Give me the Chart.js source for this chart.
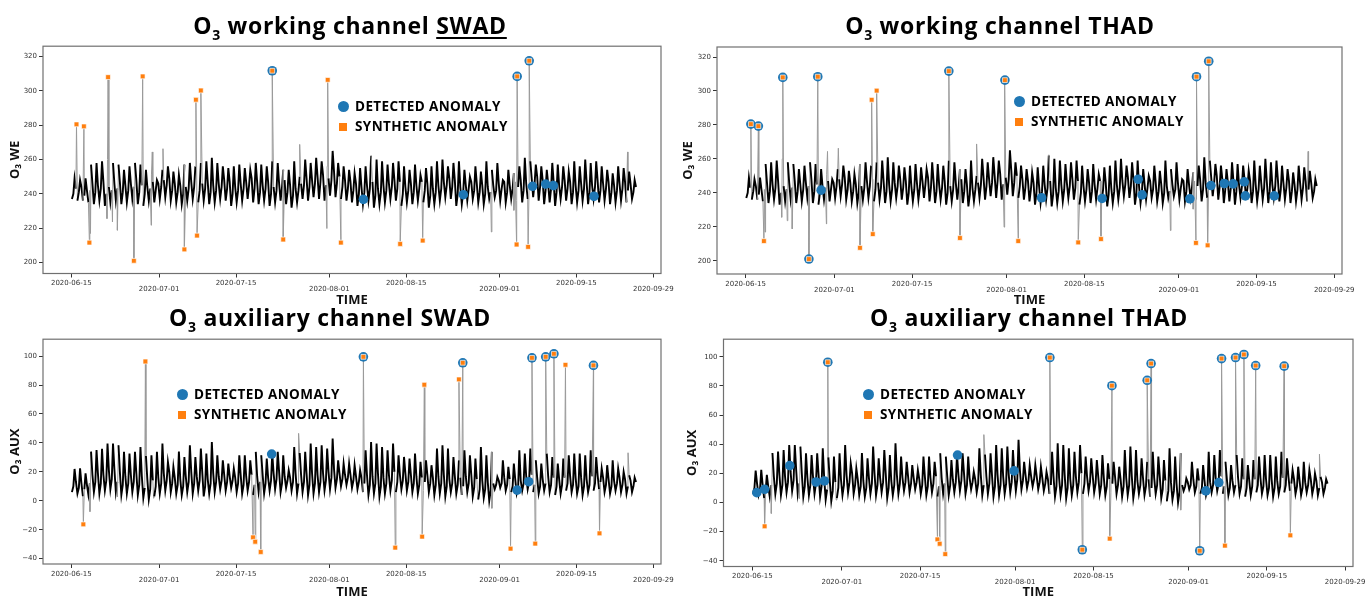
<!DOCTYPE html>
<html>
<head>
<meta charset="utf-8">
<script src="https://cdn.jsdelivr.net/npm/chart.js@4.4.0/dist/chart.umd.min.js"></script>
<style>
  body { margin: 0; background: #fff; }
  #page { position: relative; width: 1370px; height: 597px; overflow: hidden; background: #fff; }
  canvas { position: absolute; }
  .title { position: absolute; font-family: 'Open Sans', sans-serif; font-weight: 700; font-size: 23px;
           letter-spacing: 0.7px; line-height: 26px; white-space: nowrap; transform: translateX(-50%); color: #000; }
  .title .sub { font-size: 14px; position: relative; top: 6px; }
  .title u { text-decoration-thickness: 1.5px; text-underline-offset: 3px; }
  .leg { position: absolute; font-family: 'Open Sans', sans-serif; font-weight: 700; font-size: 13.5px;
         letter-spacing: 0.4px; color: #000; }
  .leg .row { height: 20px; line-height: 20px; white-space: nowrap; }
  .leg .dot { display: inline-block; width: 11px; height: 11px; border-radius: 50%; background: #1f77b4;
              vertical-align: -1px; margin-right: 6px; }
  .leg .sq { display: inline-block; width: 8px; height: 8px; background: #ff7f0e; vertical-align: 0px;
             margin: 0 8px 0 1px; }
</style>
</head>
<body>
<div id="page">
  <div class="title" style="left:350px; top:12px">O<span class="sub">3</span> working channel <u>SWAD</u></div>
  <div class="title" style="left:1000px; top:12px">O<span class="sub">3</span> working channel THAD</div>
  <div class="title" style="left:330px; top:304px">O<span class="sub">3</span> auxiliary channel SWAD</div>
  <div class="title" style="left:1029px; top:304px">O<span class="sub">3</span> auxiliary channel THAD</div>

  <div class="leg" style="left:338px; top:96px">
    <div class="row"><span class="dot"></span>DETECTED ANOMALY</div>
    <div class="row"><span class="sq"></span>SYNTHETIC ANOMALY</div>
  </div>
  <div class="leg" style="left:1014px; top:91px">
    <div class="row"><span class="dot"></span>DETECTED ANOMALY</div>
    <div class="row"><span class="sq"></span>SYNTHETIC ANOMALY</div>
  </div>
  <div class="leg" style="left:177px; top:384px">
    <div class="row"><span class="dot"></span>DETECTED ANOMALY</div>
    <div class="row"><span class="sq"></span>SYNTHETIC ANOMALY</div>
  </div>
  <div class="leg" style="left:863px; top:384px">
    <div class="row"><span class="dot"></span>DETECTED ANOMALY</div>
    <div class="row"><span class="sq"></span>SYNTHETIC ANOMALY</div>
  </div>
</div>

<script>
// x values are days since 2020-06-15
const dateTicks = [0, 16, 30, 47, 61, 78, 92, 106];
const dateLabels = ['2020-06-15', '2020-07-01', '2020-07-15', '2020-08-01', '2020-08-15', '2020-09-01', '2020-09-15', '2020-09-29'];
const weTicks = [200, 220, 240, 260, 280, 300, 320];
const auxTicks = [-40, -20, 0, 20, 40, 60, 80, 100];

// O3 WE: daily night low, morning, afternoon peak, evening
const weLow = [237,236,236,235,234,236,233,235,236,234,
  235,237,234,233,236,235,237,238,236,235,
  234,236,237,235,236,234,235,237,236,233,
  235,236,237,235,234,236,233,235,236,234,
  232,235,237,236,238,237,236,239,238,237,
  236,235,233,234,236,232,234,235,237,236,
  233,235,234,236,235,232,234,236,238,237,
  233,234,236,237,235,234,237,238,236,235,
  237,236,235,237,238,236,234,235,233,237,
  236,234,235,236,234,237,235,236,234,235,
  236,235,237];
const weMorn = [240,241,239,242,241,243,240,242,243,241,
  242,244,241,240,243,242,244,245,242,241,
  240,243,244,242,243,241,242,244,243,240,
  242,243,245,243,241,243,240,242,244,241,
  239,242,245,244,246,247,245,248,246,244,
  243,242,240,241,243,239,241,242,244,243,
  240,242,241,243,242,239,241,243,245,244,
  240,241,243,242,241,240,241,242,243,241,
  243,244,242,245,246,244,242,243,241,244,
  243,241,242,243,241,244,242,243,241,242,
  243,242,241];
const weHigh = [249,248,249,257,258,259,260,258,257,254,
  256,258,257,254,251,248,254,256,253,251,
  257,258,256,258,259,261,258,256,255,256,
  257,255,254,258,257,256,259,258,254,254,
  259,250,260,258,261,259,256,265,258,256,
  254,252,255,256,262,260,259,257,258,259,
  256,254,257,251,255,256,259,260,256,258,
  259,254,250,256,253,259,254,258,248,254,
  252,256,261,259,257,256,254,258,257,256,
  253,259,256,260,258,259,256,254,252,256,
  255,253,248];
const weEve = [243,244,242,246,245,247,244,246,247,245,
  246,248,245,244,247,246,248,249,246,245,
  244,247,248,246,247,245,246,248,247,244,
  246,247,249,247,245,247,244,246,248,245,
  243,246,249,248,250,251,249,253,250,248,
  247,246,244,245,247,243,245,246,248,247,
  244,246,245,247,246,243,245,247,249,248,
  244,245,247,246,245,244,245,246,247,245,
  247,248,246,249,250,248,246,247,245,248,
  247,245,246,247,245,248,246,247,245,246,
  247,246,244];
// isolated spikes in the WE record (not marked)
const weSpikeX = [3.5, 6.5, 7.5, 8.4, 14.55, 14.75, 16.7, 41.6, 46.55, 54.6, 76.5, 80.6, 101.3];
const weSpikeY = [216.9, 225.6, 223.6, 218.8, 221.7, 264.4, 266.3, 268.8, 219.8, 262.4, 217.8, 230.4, 264.4];
// injected anomalies, WE
const weSynthX = [0.95, 2.3, 3.3, 6.7, 11.4, 13.0, 20.6, 22.7, 22.9, 23.6, 36.6, 38.6, 46.7, 49.1, 59.9, 64.0, 81.1, 81.2, 83.2, 83.4];
const weSynthY = [280.5, 279.3, 211.6, 308, 201, 308.4, 207.6, 294.8, 215.7, 300.2, 311.7, 213.4, 306.4, 211.6, 210.8, 212.8, 210.5, 308.4, 209.1, 317.5];
// detected anomalies
const swadWeDetX = [36.6, 81.2, 83.4, 53.2, 71.4, 84.0, 86.4, 87.8, 95.2];
const swadWeDetY = [311.7, 308.4, 317.5, 236.8, 239.5, 244.4, 245.7, 244.8, 238.6];
const thadWeDetX = [0.95, 2.3, 6.7, 11.4, 13.0, 36.6, 46.7, 81.2, 83.4, 13.6, 53.3, 64.2, 70.7, 71.4, 80.0, 83.8, 86.2, 87.8, 89.8, 90.0, 95.2];
const thadWeDetY = [280.5, 279.3, 308, 201, 308.4, 311.7, 306.4, 308.4, 317.5, 241.6, 237.1, 236.7, 248, 238.8, 236.5, 244.3, 245.5, 245.3, 246.5, 238.2, 238.2];

// O3 AUX
const auxLow = [6,5,3,4,6,5,7,8,6,4,
  5,6,4,2,1,3,5,7,6,5,
  4,6,5,7,3,5,6,8,7,9,
  6,5,7,4,6,5,7,8,6,9,
  7,5,6,4,5,6,7,8,9,10,
  11,9,8,6,4,5,3,5,7,6,
  8,7,6,5,7,6,4,5,3,6,
  5,4,6,3,1,2,0,8,9,7,
  6,5,7,8,6,5,7,6,4,5,
  7,6,5,4,6,7,8,6,5,7,
  6,5,6];
const auxMorn = [10,9,8,12,13,12,14,15,13,11,
  12,13,11,9,8,10,12,14,12,11,
  10,13,12,14,10,12,13,14,13,14,
  12,11,13,11,13,12,14,15,12,14,
  13,12,13,11,12,13,14,16,15,15,
  16,14,13,12,11,12,10,12,14,13,
  14,13,12,11,13,12,11,12,10,12,
  11,10,12,9,8,8,7,11,12,11,
  10,9,12,13,11,10,12,11,10,11,
  12,11,10,10,11,12,13,11,10,12,
  11,10,10];
const auxHigh = [22,22.5,19,34,35,36,39.5,39.5,38.4,33.8,
  32.6,33.8,37.2,31,31.5,33.8,39.5,26.9,23.4,34,
  30.3,38.4,30.3,36.1,32.6,40.6,31.5,28,25.7,22.3,
  31.5,31.5,28,33.8,31.5,29.2,32.6,33.8,31.5,21.1,
  37.2,33,33.8,39.5,37.2,38.4,36.1,43,28,25.7,
  25.7,24.6,21.1,34.9,40.6,39.5,37.2,34.9,39.5,31.5,
  30.3,29.2,32.6,26.9,28,24.6,36.1,38.4,36.1,30.3,
  28,34.9,31.5,29.2,37.2,31.5,33.8,16.5,28,23.4,
  25.7,34.9,32.6,36.1,28,25.7,32.6,30.3,25.7,29.2,
  31.5,32.6,32.6,31.5,34.9,30.3,22.3,24.6,28,22.3,
  20,17.7,16];
const auxEve = [13,12,11,18,19,18,21,22,20,17,
  18,19,17,15,14,16,19,20,16,15,
  17,20,17,20,15,19,17,18,17,16,
  18,17,18,17,18,16,19,20,17,16,
  19,18,19,19,18,19,20,22,19,18,
  18,17,16,18,17,19,16,18,20,18,
  19,18,17,16,18,16,17,18,15,17,
  16,17,18,15,14,13,12,14,16,15,
  15,14,17,18,16,15,17,16,15,16,
  17,16,16,15,17,18,16,15,14,16,
  15,14,13];
const auxSpikeX = [3.4, 8.4, 15.0, 41.4, 74.1, 76.6, 101.4];
const auxSpikeY = [-7.5, 2.8, 1.7, 46.6, 0.5, -5.2, 33.2];
const auxSynthX = [2.2, 13.5, 33.1, 33.5, 34.5, 53.2, 59.0, 63.9, 64.3, 70.6, 71.3, 80.0, 83.9, 84.5, 86.4, 87.9, 90.0, 95.1, 96.2];
const auxSynthY = [-16.3, 96.3, -25.3, -28.3, -35.4, 99.5, -32.4, -24.8, 80.2, 83.9, 95.4, -33.1, 98.8, -29.6, 99.5, 101.6, 94.0, 93.6, -22.5];
const swadAuxDetX = [53.2, 71.3, 83.9, 86.4, 87.9, 95.1, 36.5, 81.2, 83.3];
const swadAuxDetY = [99.5, 95.4, 98.8, 99.5, 101.6, 93.6, 32.3, 7.4, 13.2];
const thadAuxDetX = [13.5, 53.2, 59.0, 64.3, 70.6, 71.3, 80.0, 83.9, 86.4, 87.9, 90.0, 95.1, 0.8, 2.2, 6.7, 11.4, 12.9, 36.7, 46.8, 81.1, 83.4];
const thadAuxDetY = [96.3, 99.5, -32.4, 80.2, 83.9, 95.4, -33.1, 98.8, 99.5, 101.6, 94.0, 93.6, 6.8, 9.1, 25.3, 14.1, 14.8, 32.6, 21.7, 8.0, 13.7];

function toPts(xs, ys) {
  return xs.map((x, i) => ({ x: x, y: ys[i] }));
}

// one record: four readings a day, plus spikes and injected anomalies
function buildSeries(low, morn, high, eve, spikeX, spikeY, synthX, synthY) {
  const pts = [];
  const n = Math.min(low.length, morn.length, high.length, eve.length);
  for (let d = 0; d < n; d++) {
    pts.push({ x: d + 0.12, y: low[d] }, { x: d + 0.38, y: morn[d] },
             { x: d + 0.6, y: high[d] }, { x: d + 0.85, y: eve[d] });
  }
  toPts(spikeX, spikeY).forEach(p => { p.s = true; pts.push(p); });
  toPts(synthX, synthY).forEach(p => { p.s = true; pts.push(p); });
  pts.sort((a, b) => a.x - b.x);
  return pts;
}

const weSeries = buildSeries(weLow, weMorn, weHigh, weEve, weSpikeX, weSpikeY, weSynthX, weSynthY);
const auxSeries = buildSeries(auxLow, auxMorn, auxHigh, auxEve, auxSpikeX, auxSpikeY, auxSynthX, auxSynthY);

const xMin = -5.15, xMax = 107.4;

const framePlugin = {
  id: 'frame',
  afterDatasetsDraw(chart) {
    const a = chart.chartArea, c = chart.ctx;
    c.save();
    c.strokeStyle = '#707070';
    c.lineWidth = 1.2;
    c.strokeRect(a.left, a.top, a.right - a.left, a.bottom - a.top);
    c.restore();
  }
};

Chart.defaults.font.family = "'DejaVu Sans', sans-serif";

function makePanel(p) {
  const cv = document.createElement('canvas');
  cv.width = p.box.w; cv.height = p.box.h;
  cv.style.left = p.box.l + 'px'; cv.style.top = p.box.t + 'px';
  document.getElementById('page').insertBefore(cv, document.querySelector('.title'));
  const series = p.series;
  const isSpike = ctx => series[ctx.p0DataIndex].s || series[ctx.p1DataIndex].s;

  new Chart(cv.getContext('2d'), {
    type: 'scatter',
    data: {
      datasets: [
        {
          data: series, showLine: true, borderColor: '#000', borderWidth: 1.9, pointRadius: 0,
          segment: {
            borderColor: ctx => isSpike(ctx) ? '#9a9a9a' : '#000',
            borderWidth: ctx => isSpike(ctx) ? 1 : 1.9
          },
          order: 3
        },
        {
          data: toPts(p.detX, p.detY), pointStyle: 'circle', pointRadius: 4.8,
          backgroundColor: '#1f77b4', borderWidth: 0, order: 2
        },
        {
          data: toPts(p.synthX, p.synthY), pointStyle: 'rect', pointRadius: 3.4,
          backgroundColor: '#ff7f0e', borderColor: 'rgba(255,255,255,0.65)', borderWidth: 1, order: 1
        }
      ]
    },
    options: {
      animation: false, responsive: false, events: [],
      layout: { padding: { left: 0, top: p.frame.t - p.box.t, right: p.box.l + p.box.w - p.frame.r, bottom: 0 } },
      plugins: { legend: { display: false }, tooltip: { enabled: false } },
      scales: {
        x: {
          type: 'linear', min: xMin, max: xMax,
          afterBuildTicks: s => { s.ticks = dateTicks.map(v => ({ value: v })); },
          afterFit: s => { s.height = p.box.t + p.box.h - p.frame.b; },
          ticks: {
            autoSkip: false, maxRotation: 0, padding: 3, color: '#333',
            font: { size: 7, lineHeight: 0.85 },
            callback: (v, i) => i % 2 ? ['', dateLabels[i]] : dateLabels[i]
          },
          grid: { drawOnChartArea: false, tickLength: 4, color: '#333' },
          border: { display: false },
          title: {
            display: true, text: 'TIME', color: '#111',
            font: { family: "'Open Sans', sans-serif", weight: 'bold', size: 13, lineHeight: p.xTitleLH },
            padding: { top: 0, bottom: p.xTitlePad }
          }
        },
        y: {
          type: 'linear', min: p.yMin, max: p.yMax,
          afterBuildTicks: s => { s.ticks = p.yTicks.map(v => ({ value: v })); },
          afterFit: s => { s.width = p.frame.l - p.box.l; },
          ticks: {
            padding: 2, color: '#333', font: { size: 7 },
            callback: v => v < 0 ? '\u2212' + (-v) : '' + v
          },
          grid: { drawOnChartArea: false, tickLength: 4, color: '#333' },
          border: { display: false },
          title: {
            display: true, text: p.yTitle, color: '#111',
            font: { family: "'Open Sans', sans-serif", weight: 'bold', size: 13, lineHeight: 1.2 },
            padding: { top: p.yTitlePad, bottom: 0 }
          }
        }
      }
    },
    plugins: [framePlugin]
  });
}

makePanel({
  box: { l: 0, t: 40, w: 680, h: 275 }, frame: { l: 43, r: 661, t: 46, b: 273.5 },
  yMin: 193.6, yMax: 326, yTicks: weTicks, yTitle: 'O\u2083 WE', yTitlePad: 7,
  xTitlePad: 6.7, xTitleLH: 1.2,
  series: weSeries, synthX: weSynthX, synthY: weSynthY, detX: swadWeDetX, detY: swadWeDetY
});
makePanel({
  box: { l: 680, t: 40, w: 690, h: 275 }, frame: { l: 717, r: 1342, t: 47, b: 274 },
  yMin: 192.2, yMax: 325.9, yTicks: weTicks, yTitle: 'O\u2083 WE', yTitlePad: 0,
  xTitlePad: 6.7, xTitleLH: 1.2,
  series: weSeries, synthX: weSynthX, synthY: weSynthY, detX: thadWeDetX, detY: thadWeDetY
});
makePanel({
  box: { l: 0, t: 333, w: 680, h: 264 }, frame: { l: 43, r: 661, t: 339, b: 564 },
  yMin: -43.7, yMax: 111.7, yTicks: auxTicks, yTitle: 'O\u2083 AUX', yTitlePad: 7,
  xTitlePad: 0, xTitleLH: 0.8,
  series: auxSeries, synthX: auxSynthX, synthY: auxSynthY, detX: swadAuxDetX, detY: swadAuxDetY
});
makePanel({
  box: { l: 680, t: 333, w: 690, h: 264 }, frame: { l: 723.5, r: 1353, t: 339, b: 566.5 },
  yMin: -43.9, yMax: 112.1, yTicks: auxTicks, yTitle: 'O\u2083 AUX', yTitlePad: 4,
  xTitlePad: 0, xTitleLH: 0.8,
  series: auxSeries, synthX: auxSynthX, synthY: auxSynthY, detX: thadAuxDetX, detY: thadAuxDetY
});
</script>
</body>
</html>
